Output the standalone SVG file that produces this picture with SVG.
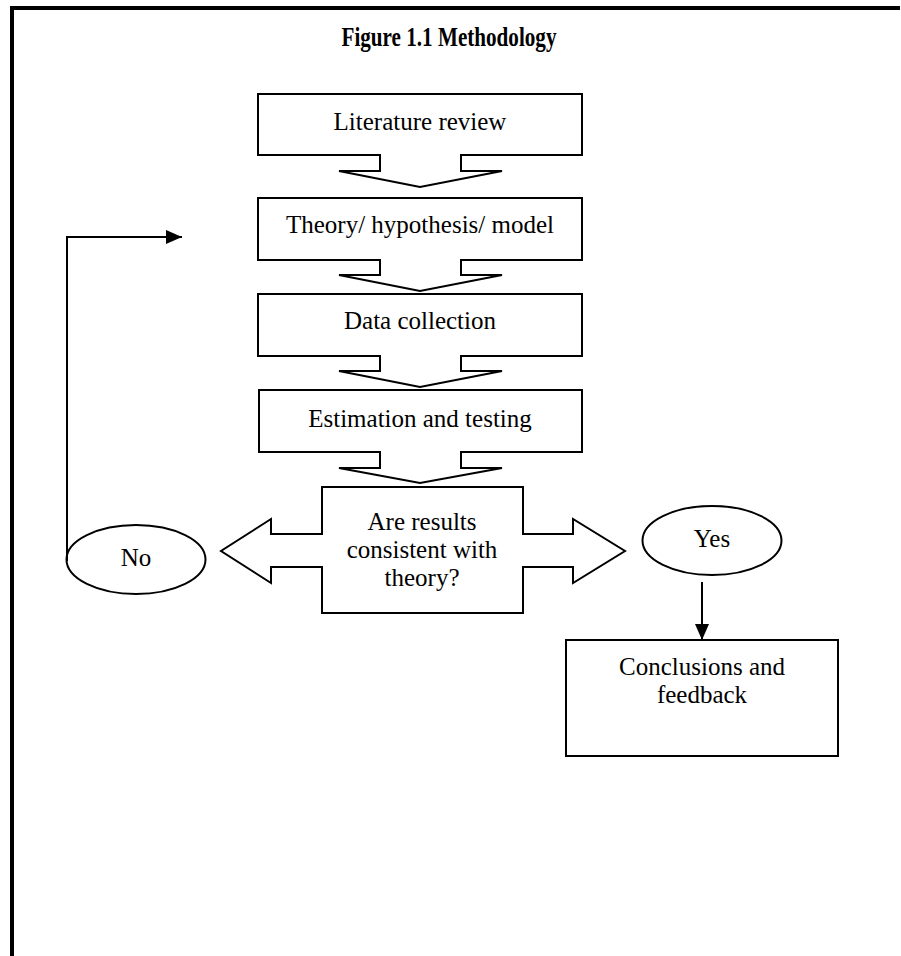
<svg xmlns="http://www.w3.org/2000/svg" width="901" height="956" viewBox="0 0 901 956">
<defs>
<style>
.shape{fill:#fff;stroke:#000;stroke-width:2;stroke-linejoin:miter}
.t{font-family:"Liberation Serif","Times New Roman",serif;font-size:25px;fill:#000;text-anchor:middle}
.title{font-family:"Liberation Serif","Times New Roman",serif;font-size:27px;font-weight:bold;fill:#000;text-anchor:middle}
.conn{fill:none;stroke:#000;stroke-width:2}
</style>
<marker id="ah" viewBox="0 0 16 14" refX="16" refY="7" markerWidth="16" markerHeight="14" markerUnits="userSpaceOnUse" orient="auto">
<path d="M0,0 L16,7 L0,14 Z" fill="#000"/>
</marker>
</defs>
<rect width="901" height="956" fill="#fff"/>
<g id="frame">
<rect x="10" y="6" width="890" height="4" fill="#000"/>
<rect x="10" y="6" width="4" height="950" fill="#000"/>
</g>
<g id="title"><text class="title" x="449" y="46" textLength="215" lengthAdjust="spacingAndGlyphs">Figure 1.1 Methodology</text></g>
<g id="literature">
<path class="shape" d="M258,94 H582 V155 H461 V171 H502 L420,187 L339,171 H380 V155 H258 Z"/>
<text class="t" x="420" y="130">Literature review</text>
</g>
<g id="theory">
<path class="shape" d="M258,198 H582 V260 H461 V275 H502 L420,291 L339,275 H380 V260 H258 Z"/>
<text class="t" x="420" y="233">Theory/ hypothesis/ model</text>
</g>
<g id="data">
<path class="shape" d="M258,294 H582 V356 H461 V371 H502 L420,387 L339,371 H380 V356 H258 Z"/>
<text class="t" x="420" y="329">Data collection</text>
</g>
<g id="estimation">
<path class="shape" d="M259,390 H582 V452 H461 V468 H502 L420,483 L339,468 H380 V452 H259 Z"/>
<text class="t" x="420" y="427">Estimation and testing</text>
</g>
<g id="decision">
<path class="shape" d="M322,487 H523 V534 H573 V519 L625,551 L573,583 V567 H523 V613 H322 V567 H271 V583 L221,551 L271,519 V534 H322 Z"/>
<text class="t" x="422" y="530">Are results</text>
<text class="t" x="422" y="558">consistent with</text>
<text class="t" x="422" y="586">theory?</text>
</g>
<g id="no">
<ellipse class="shape" cx="136" cy="559.5" rx="69.5" ry="34.5"/>
<text class="t" x="136" y="566">No</text>
</g>
<g id="yes">
<ellipse class="shape" cx="712" cy="540.5" rx="69.5" ry="34.5"/>
<text class="t" x="712" y="547">Yes</text>
</g>
<g id="conclusions">
<rect class="shape" x="566" y="640" width="272" height="116"/>
<text class="t" x="702" y="675">Conclusions and</text>
<text class="t" x="702" y="703">feedback</text>
</g>
<g id="connectors">
<path class="conn" d="M67,561 V237 H182" marker-end="url(#ah)"/>
<path class="conn" d="M702,582 V640" marker-end="url(#ah)"/>
</g>
</svg>
